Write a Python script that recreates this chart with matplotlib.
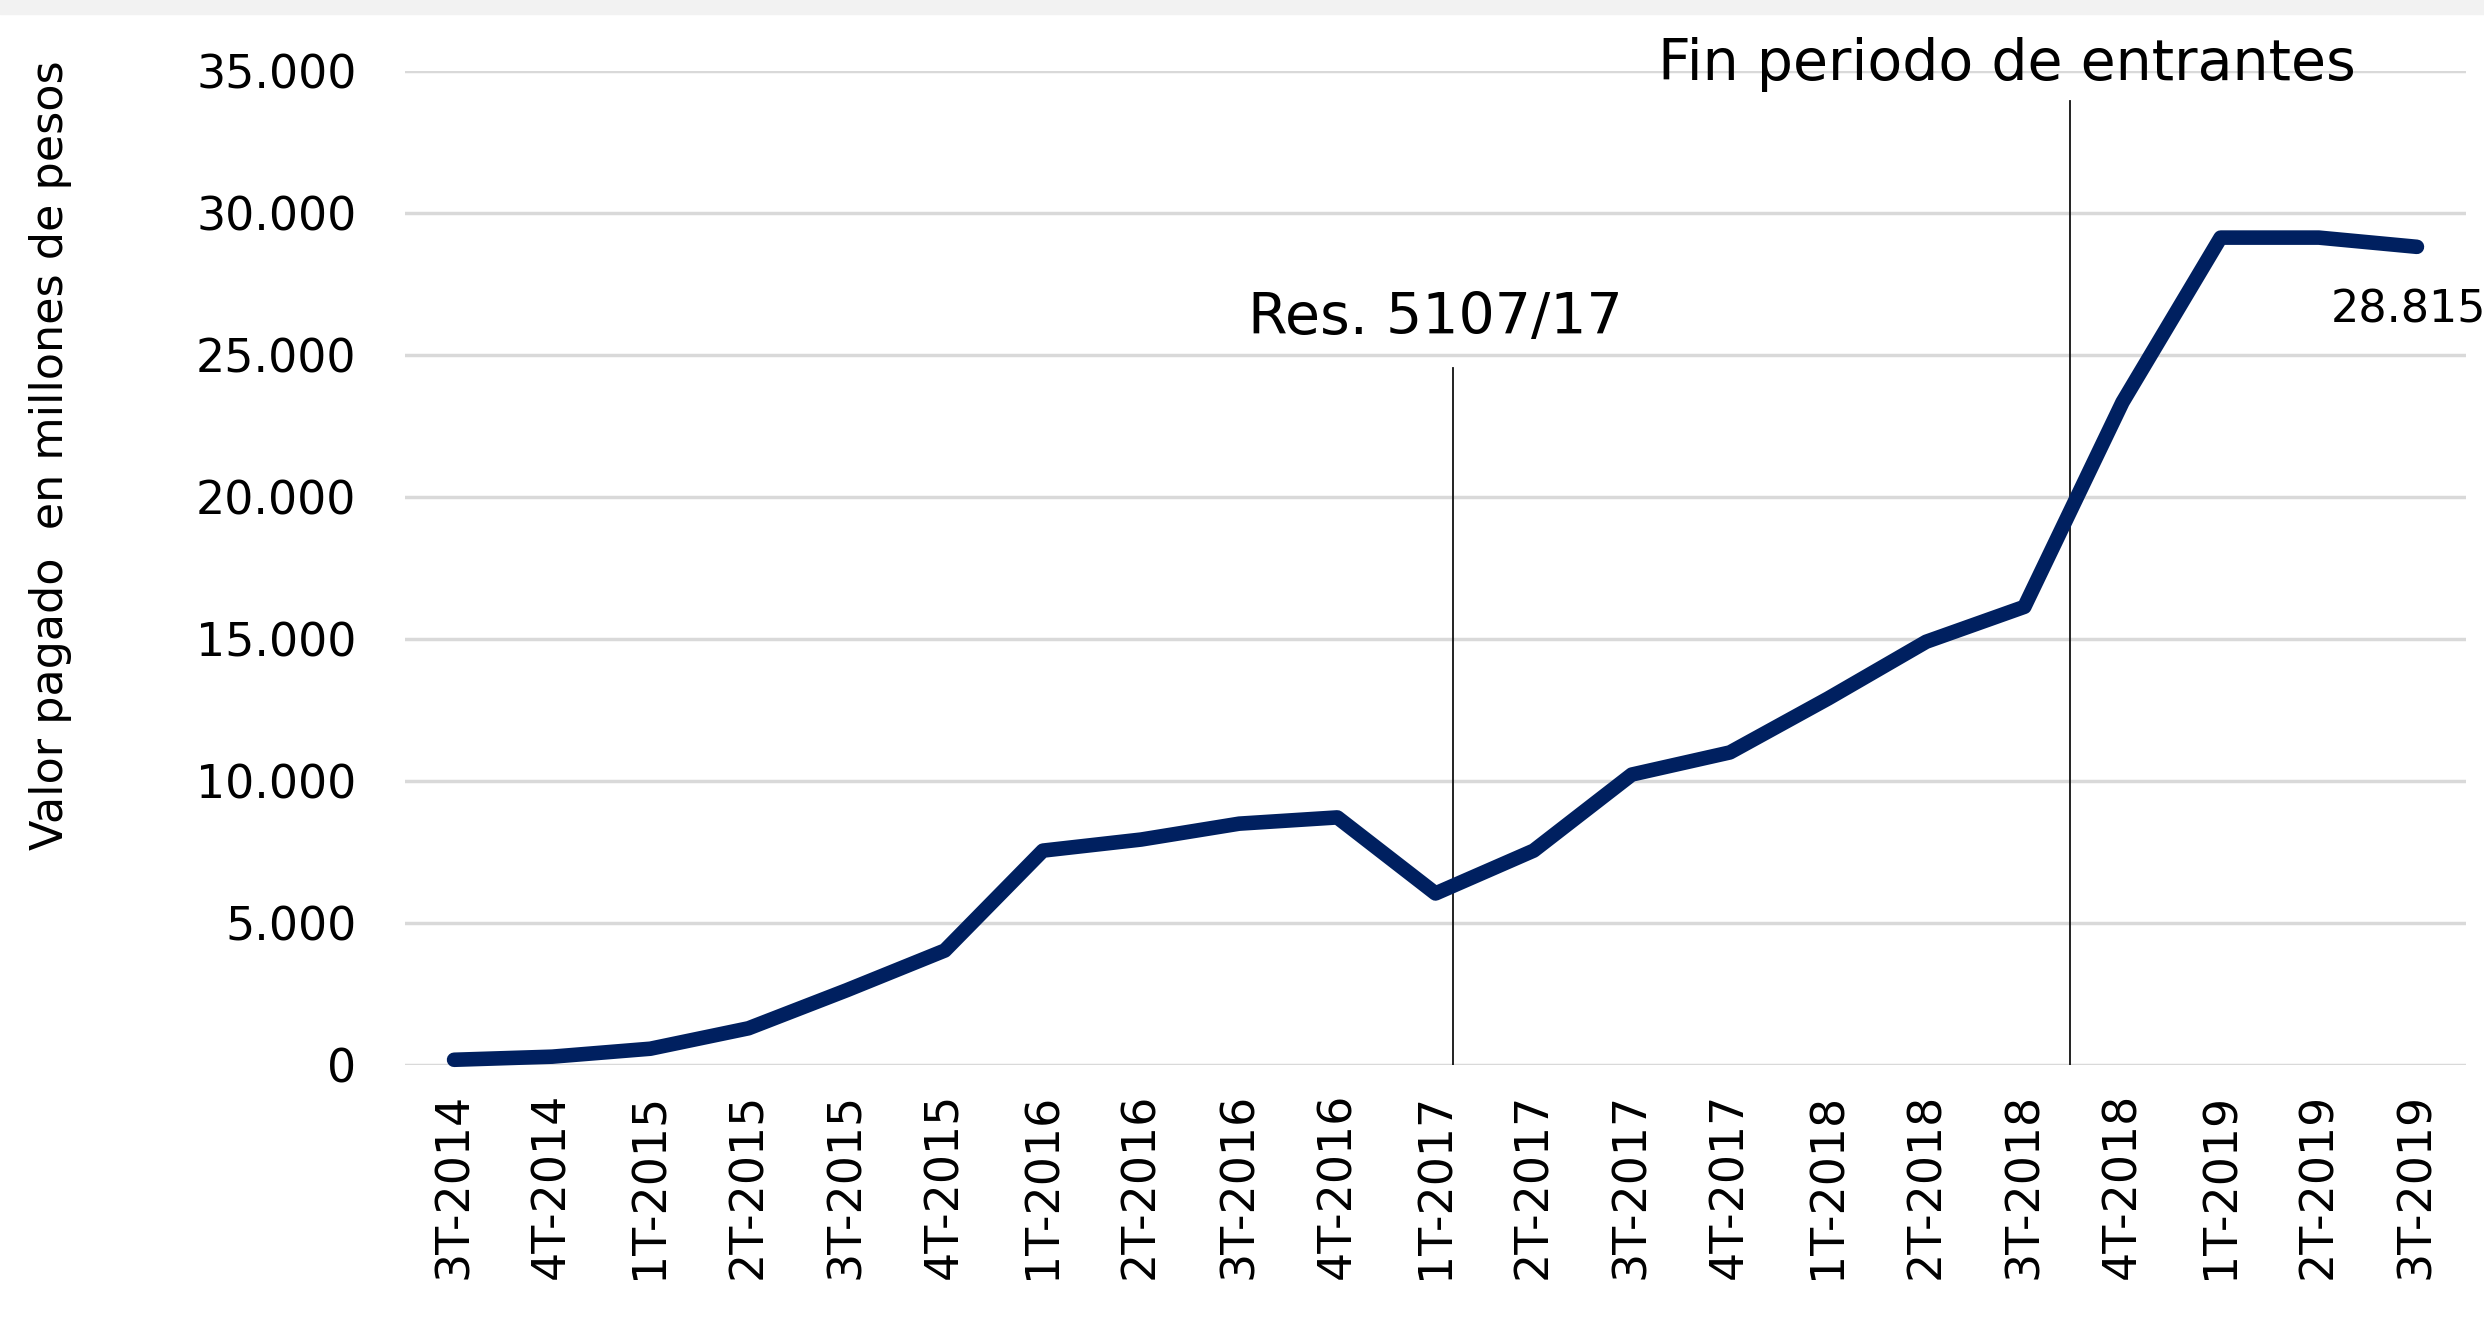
import matplotlib
matplotlib.use("Agg")
import matplotlib.pyplot as plt
from matplotlib.ticker import FuncFormatter

trimestres = ['3T-2014', '4T-2014', '1T-2015', '2T-2015', '3T-2015', '4T-2015',
              '1T-2016', '2T-2016', '3T-2016', '4T-2016', '1T-2017', '2T-2017',
              '3T-2017', '4T-2017', '1T-2018', '2T-2018', '3T-2018', '4T-2018',
              '1T-2019', '2T-2019', '3T-2019']
valor_pagado = [170, 280, 560, 1280, 2620, 4020, 7540, 7930, 8490, 8710, 6030,
                7540, 10220, 11000, 12900, 14900, 16130, 23340, 29140, 29140, 28815]

# hitos marcados con lineas verticales: (posicion en el eje, altura, texto)
hitos_x = [10.18, 16.46]
hitos_alto = [24560, 33940]
hitos_texto = ['Res. 5107/17', 'Fin periodo de entrantes']
hitos_texto_x = [10.0, 15.82]
hitos_texto_y = [25750, 34700]

azul = '#002060'
W, H = 2484, 1333
fig = plt.figure(figsize=(W / 100, H / 100), dpi=100)

# franja gris superior
fig.patches.append(plt.Rectangle((0, 1 - 14 / H), 1, 14 / H, transform=fig.transFigure,
                                 color='#f2f2f2', zorder=0))

ax = fig.add_axes([405 / W, 268.4 / H, (2466 - 405) / W, (1261.7 - 268.4) / H])
x = list(range(len(trimestres)))
ax.plot(x, valor_pagado, color=azul, lw=10.5, solid_capstyle='round',
        solid_joinstyle='round', clip_on=False, zorder=3)

ax.set_xlim(-0.5, len(trimestres) - 0.5)
ax.set_ylim(0, 35000)
ax.set_yticks(range(0, 35001, 5000))
ax.yaxis.set_major_formatter(FuncFormatter(lambda v, p: f'{int(v):,}'.replace(',', '.')))
ax.set_xticks(x)
ax.set_xticklabels(trimestres, rotation=90)
ax.tick_params(axis='y', length=0, pad=35, labelsize=33)
ax.tick_params(axis='x', length=0, pad=20, labelsize=33)
ax.grid(axis='y', color='#d9d9d9', lw=2.5)
ax.set_axisbelow(True)
for s in ax.spines.values():
    s.set_visible(False)

for hx, ha_, txt, tx, ty in zip(hitos_x, hitos_alto, hitos_texto, hitos_texto_x, hitos_texto_y):
    ax.plot([hx, hx], [0, ha_], color='#111111', lw=1.3, zorder=2)
    ax.text(tx, ty, txt, fontsize=41, ha='center', va='baseline', clip_on=False)

ax.annotate(f'{valor_pagado[-1]:,}'.replace(',', '.'), (x[-1], valor_pagado[-1]),
            xytext=(-6, -30), textcoords='offset points', ha='center', va='top',
            fontsize=32, annotation_clip=False)

fig.text(51 / W, 1 - 455 / H, 'Valor pagado  en millones de pesos', rotation=90,
         ha='center', va='center', fontsize=32)

fig.savefig('out.png', dpi=100, facecolor='white')
